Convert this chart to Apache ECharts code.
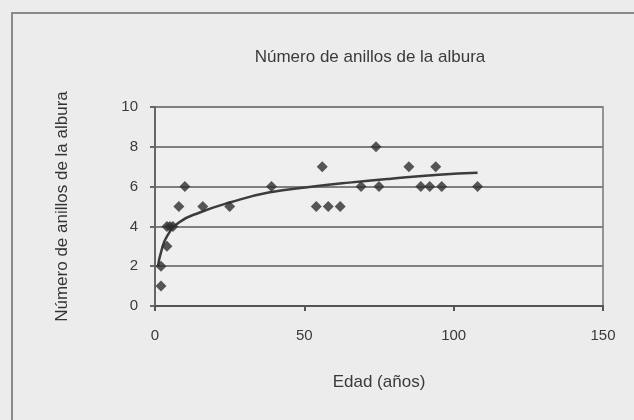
<!DOCTYPE html>
<html>
<head>
<meta charset="utf-8">
<script src="https://cdn.jsdelivr.net/npm/echarts@6/dist/echarts.min.js"></script>
<style>
html,body{margin:0;padding:0;background:#f3f3f3;}
#c{width:634px;height:420px;}
</style>
</head>
<body>
<div id="c"></div>
<script>
var titleText = 'Número de anillos de la albura';
var xName = 'Edad (años)';
var yName = 'Número de anillos de la albura';
var xTicks = [0, 50, 100, 150];
var yTicks = [0, 2, 4, 6, 8, 10];
var edad = [2, 2, 4, 4, 5, 6, 8, 10, 16, 25, 39, 54, 56, 58, 62, 69, 74, 75, 85, 89, 92, 94, 96, 108];
var anillos = [1, 2, 3, 4, 4, 4, 5, 6, 5, 5, 6, 5, 7, 5, 5, 6, 8, 6, 7, 6, 6, 7, 6, 6];
var trendX = [1, 2, 4, 8, 15, 25, 38, 53, 65, 79, 95, 108];
var trendY = [2.0, 2.7, 3.5, 4.2, 4.7, 5.2, 5.7, 6.0, 6.2, 6.4, 6.6, 6.7];

var pts = edad.map(function (x, i) { return [x, anillos[i]]; });
var trend = trendX.map(function (x, i) { return [x, trendY[i]]; });

var chart = echarts.init(document.getElementById('c'), null, {renderer: 'canvas'});
var font = 'Liberation Sans, Arial, sans-serif';
chart.setOption({
  backgroundColor: '#ececec',
  animation: false,
  title: {
    text: titleText,
    left: 365, top: 44, textAlign: 'center',
    textStyle: {fontFamily: font, fontSize: 17, fontWeight: 'normal', color: '#3a3a3a'}
  },
  graphic: [{
    type: 'polyline', silent: true,
    shape: {points: [[12, 420], [12, 13], [634, 13]]},
    style: {stroke: '#8a8a8a', lineWidth: 2, fill: null}
  }],
  grid: {
    left: 155, right: 31, top: 107, bottom: 114,
    show: true, borderColor: '#777', borderWidth: 1.5,
    backgroundColor: '#efefef'
  },
  xAxis: {
    type: 'value', min: xTicks[0], max: xTicks[xTicks.length - 1], interval: 50,
    name: xName, nameLocation: 'middle', nameGap: 68,
    nameTextStyle: {fontFamily: font, fontSize: 17, color: '#3a3a3a'},
    axisLine: {show: true, lineStyle: {color: '#555', width: 2}},
    axisTick: {show: true, length: 5, lineStyle: {color: '#555', width: 2}},
    axisLabel: {fontFamily: font, fontSize: 15, color: '#3a3a3a', margin: 22},
    splitLine: {show: false}
  },
  yAxis: {
    type: 'value', min: yTicks[0], max: yTicks[yTicks.length - 1], interval: 2,
    name: yName, nameLocation: 'middle', nameGap: 84, nameRotate: 90,
    nameTextStyle: {fontFamily: font, fontSize: 17, color: '#333'},
    axisLine: {show: true, lineStyle: {color: '#666', width: 2}},
    axisTick: {show: true, length: 5, lineStyle: {color: '#666', width: 2}},
    axisLabel: {fontFamily: font, fontSize: 15, color: '#3a3a3a', margin: 17},
    splitLine: {show: true, lineStyle: {color: '#7f7f7f', width: 2}}
  },
  series: [{
    type: 'scatter', data: pts, symbol: 'diamond', symbolSize: 11,
    itemStyle: {color: '#2e2e2e'}, z: 3
  }, {
    type: 'line', data: trend, smooth: true, showSymbol: false, symbol: 'none',
    lineStyle: {color: '#3c3c3c', width: 2.5}, z: 2
  }]
});
</script>
</body>
</html>
